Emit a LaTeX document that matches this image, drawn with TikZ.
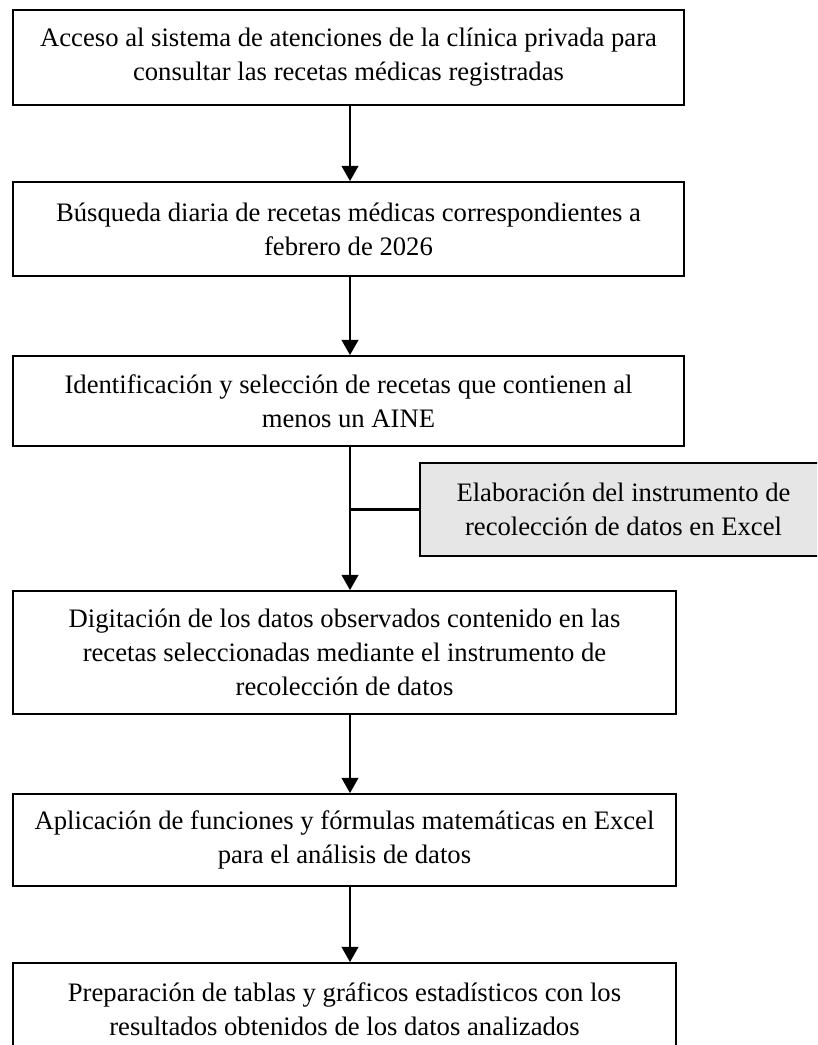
\documentclass[tikz,border=0pt]{standalone}
\usepackage{fontspec}
\setmainfont{Liberation Serif}
\usetikzlibrary{arrows.meta}
\definecolor{sidegray}{HTML}{E7E6E6}
\begin{document}
\begin{tikzpicture}[
    x=0.75pt, y=-0.75pt,
    stepbox/.style={rectangle, draw, line width=1.3pt, align=center, inner sep=0pt, font=\fontsize{20}{25.5}\selectfont},
    sidebox/.style={stepbox, fill=sidegray},
    arrow/.style={line width=1.7pt, -{Triangle[width=12.5pt, length=11.5pt]}},
    link/.style={line width=1.7pt}
]
    \clip (0,0) rectangle (817,1045);

    % Steps
    \node [stepbox, minimum width=503.25pt, minimum height=71.25pt] (acceso) at (348.5,57.5) {Acceso al sistema de atenciones de la clínica privada para\\consultar las recetas médicas registradas};
    \node [stepbox, minimum width=503.25pt, minimum height=70.5pt] (busqueda) at (348.5,229) {Búsqueda diaria de recetas médicas correspondientes a\\febrero de 2026};
    \node [stepbox, minimum width=503.25pt, minimum height=67.5pt] (seleccion) at (348.5,401) {Identificación y selección de recetas que contienen al\\menos un AINE};
    \node [stepbox, minimum width=497.25pt, minimum height=92.25pt] (digitacion) at (344.5,652.5) {Digitación de los datos observados contenido en las\\recetas seleccionadas mediante el instrumento de\\recolección de datos};
    \node [stepbox, minimum width=497.25pt, minimum height=69pt] (aplicacion) at (344.5,840) {Aplicación de funciones y fórmulas matemáticas en Excel\\para el análisis de datos};
    \node [stepbox, minimum width=497.25pt, minimum height=69pt] (preparacion) at (344.5,1009) {Preparación de tablas y gráficos estadísticos con los\\resultados obtenidos de los datos analizados};

    % Side step
    \node [sidebox, minimum width=305.25pt, minimum height=69.75pt] (instrumento) at (623.5,509.5) {Elaboración del instrumento de\\recolección de datos en Excel};
    \coordinate (join) at (350,509.5);

    % Connections
    \draw [arrow] (acceso.south -| join) -- (busqueda.north -| join);
    \draw [arrow] (busqueda.south -| join) -- (seleccion.north -| join);
    \draw [arrow] (seleccion.south -| join) -- (digitacion.north -| join);
    \draw [link] (instrumento.west) -- (join);
    \draw [arrow] (digitacion.south -| join) -- (aplicacion.north -| join);
    \draw [arrow] (aplicacion.south -| join) -- (preparacion.north -| join);
\end{tikzpicture}
\end{document}
